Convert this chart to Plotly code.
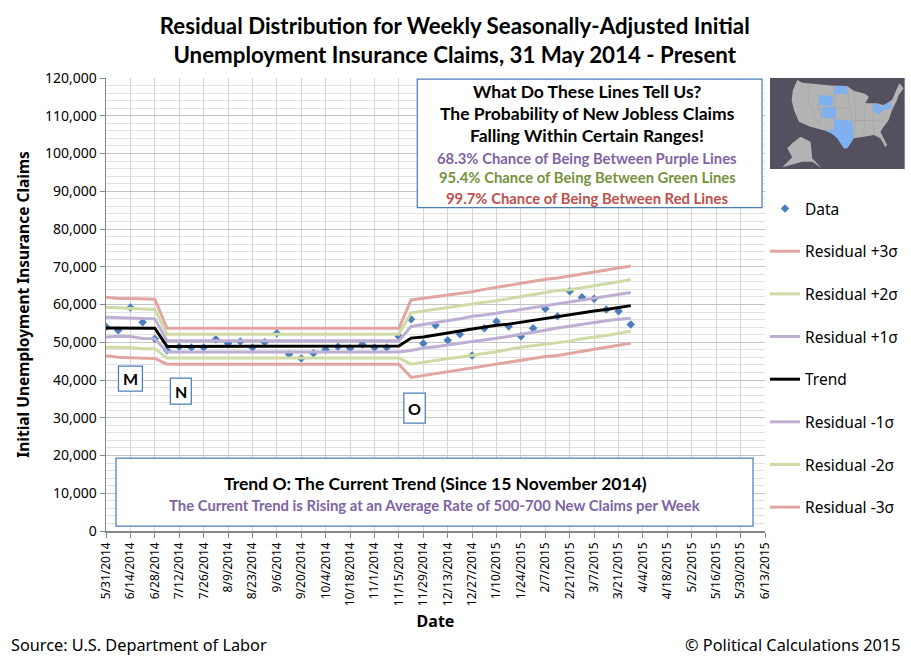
import pandas as pd
import plotly.graph_objects as go

# Weekly dates, 5/31/2014 through 3/28/2015
week_dates = pd.date_range("2014-05-31", periods=44, freq="7D")

data_values = [54100, 53200, 59200, 55300, 50900, 47800, 48800, 48600, 48600, 50800, 49700,
               50200, 48600, 50000, 52400, 46800, 45700, 47100, 48100, 48800, 48400, 49400,
               48600, 48600, 51500, 56100, 49700, 54500, 50500, 52100, 46500, 53700, 55500,
               54200, 51600, 53700, 58900, 56900, 63500, 61900, 61500, 58700, 58200, 54700]

plus3 = [61900, 61600, 61600, 61500, 61400, 53700, 53700, 53700, 53700, 53700, 53700,
         53700, 53700, 53700, 53700, 53700, 53700, 53700, 53700, 53700, 53700, 53700,
         53700, 53700, 53700, 61200, 61600, 62100, 62500, 63000, 63400, 64000, 64500,
         65100, 65600, 66100, 66700, 67000, 67500, 68100, 68600, 69100, 69700, 70200]
plus2 = [59300, 59100, 59000, 58800, 58700, 52100, 52100, 52100, 52100, 52100, 52100,
         52100, 52100, 52100, 52100, 52100, 52100, 52100, 52100, 52100, 52100, 52100,
         52100, 52100, 52100, 57800, 58300, 58800, 59200, 59800, 60300, 60600, 61000,
         61500, 62100, 62600, 63100, 63700, 63900, 64400, 64900, 65300, 66000, 66600]
plus1 = [56600, 56500, 56300, 56300, 56200, 50400, 50400, 50400, 50400, 50400, 50400,
         50400, 50400, 50400, 50400, 50400, 50400, 50400, 50400, 50400, 50400, 50400,
         50400, 50400, 50400, 54200, 54700, 55200, 55700, 56200, 56900, 57200, 57700,
         58200, 58700, 59200, 59800, 60300, 60700, 61200, 61600, 62100, 62600, 63200]
trend = [53800, 53800, 53600, 53600, 53700, 48900, 48900, 48900, 48900, 48900, 48900,
         48900, 48900, 48900, 48900, 48900, 48900, 48900, 48900, 48900, 48900, 48900,
         48900, 48900, 49000, 51100, 51400, 51900, 52500, 53000, 53500, 54000, 54500,
         54800, 55300, 55800, 56300, 56900, 57400, 57900, 58300, 58700, 59200, 59700]
minus1 = [51400, 51600, 51500, 51000, 50900, 47400, 47400, 47400, 47400, 47400, 47400,
          47400, 47400, 47400, 47400, 47400, 47400, 47400, 47400, 47400, 47400, 47400,
          47400, 47400, 47400, 47800, 48500, 48800, 49300, 49700, 50200, 50600, 51000,
          51500, 52100, 52600, 53200, 53800, 54300, 54800, 55300, 55700, 56100, 56300]
minus2 = [48700, 48700, 48600, 48300, 48300, 45800, 45800, 45800, 45800, 45800, 45800,
          45800, 45800, 45800, 45800, 45800, 45800, 45800, 45800, 45800, 45800, 45800,
          45800, 45800, 45800, 44200, 44700, 45200, 45700, 46000, 46400, 47000, 47500,
          48100, 48700, 49100, 49500, 49900, 50300, 50900, 51300, 51800, 52400, 52900]
minus3 = [46400, 46000, 45900, 45700, 45700, 44200, 44200, 44200, 44200, 44200, 44200,
          44200, 44200, 44200, 44200, 44200, 44200, 44200, 44200, 44200, 44200, 44200,
          44200, 44200, 44200, 40700, 41200, 41700, 42100, 42700, 43100, 43600, 44200,
          44700, 45200, 45700, 46200, 46500, 47100, 47600, 48100, 48700, 49200, 49700]

RED = "#e3a5a1"
GREEN = "#cddba5"
PURPLE = "#bdafd3"
BLUE = "#4a7ebb"

line_series = [("Residual +3σ", plus3, RED), ("Residual +2σ", plus2, GREEN),
               ("Residual +1σ", plus1, PURPLE), ("Trend", trend, "black"),
               ("Residual -1σ", minus1, PURPLE), ("Residual -2σ", minus2, GREEN),
               ("Residual -3σ", minus3, RED)]

# Plot area in page pixels
LEFT, RIGHT, TOP, BOTTOM = 105.5, 766, 78, 531


def px(x):
    return (x - LEFT) / (RIGHT - LEFT)


def py(y):
    return (BOTTOM - y) / (BOTTOM - TOP)


fig = go.Figure()

fig.add_trace(go.Scatter(x=week_dates, y=data_values, mode="markers", name="Data",
                         legendgroup="data",
                         marker=dict(symbol="diamond", size=6.5, color=BLUE)))

for name, values, color in line_series:
    fig.add_trace(go.Scatter(x=week_dates, y=values, mode="lines", name=name,
                             legendgroup=name, line=dict(color=color, width=3)))

# ----- Text boxes -----
shapes = []
annotations = []


def add_box(x0, y0, x1, y1):
    shapes.append(dict(type="rect", xref="paper", yref="paper", x0=px(x0), x1=px(x1),
                       y0=py(y1), y1=py(y0), fillcolor="white",
                       line=dict(color=BLUE, width=1.25), layer="above"))


def add_text(x, y, text, size, color="black", bold=True, font="Lato", anchor="center"):
    if bold:
        text = "<b>" + text + "</b>"
    annotations.append(dict(xref="paper", yref="paper", x=px(x), y=py(y), text=text,
                            showarrow=False, xanchor=anchor, yanchor="middle",
                            font=dict(family=font, size=size, color=color)))


add_box(417.5, 79, 763, 207.5)
add_text(588, 91, "What Do These Lines Tell Us?", 17.5)
add_text(588, 114, "The Probability of New Jobless Claims", 17.5)
add_text(588, 135, "Falling Within Certain Ranges!", 17.5)
add_text(588, 158, "68.3% Chance of Being Between Purple Lines", 14.85, "#8064a2")
add_text(588, 177, "95.4% Chance of Being Between Green Lines", 14.85, "#76923c")
add_text(588, 198, "99.7% Chance of Being Between Red Lines", 14.85, "#c0504d")

add_box(115.5, 458, 754, 526)
add_text(436, 483, "Trend O: The Current Trend (Since 15 November 2014)", 17.5)
add_text(435, 505, "The Current Trend is Rising at an Average Rate of 500-700 New Claims per Week", 14.85, "#8064a2")

add_box(118, 366, 142, 391)
add_text(130, 378, "M", 16)
add_box(170, 378, 191, 404)
add_text(180.5, 391, "N", 16)
add_box(404, 393, 425.5, 423)
add_text(414.5, 408, "O", 16)

add_text(8, 645, "Source: U.S. Department of Labor", 16.3, bold=False, font="Noto Sans", anchor="left")
add_text(903, 645, "© Political Calculations 2015", 16.3, bold=False, font="Noto Sans", anchor="right")

# ----- US map inset (rough outlines, drawn in page pixels) -----
us_main = [(85, 30), (100, 38), (195, 47), (235, 48), (255, 62), (290, 72), (300, 80), (290, 100),
           (320, 100), (345, 105), (370, 90), (385, 55), (392, 40), (405, 55), (390, 75), (385, 90),
           (370, 120), (360, 150), (345, 170), (335, 185), (355, 225), (350, 232), (335, 205),
           (315, 195), (285, 200), (255, 205), (235, 235), (225, 235), (205, 200), (190, 185),
           (170, 182), (125, 170), (90, 155), (75, 120), (68, 90), (72, 60)]
us_alaska = [(95, 200), (125, 215), (130, 265), (158, 295), (130, 275), (100, 275), (40, 292),
             (70, 262), (55, 235), (70, 220)]
north_dakota = [(197, 47), (235, 48), (237, 72), (195, 72)]
wyoming = [(152, 75), (192, 78), (190, 108), (148, 105)]
colorado = [(160, 110), (203, 113), (200, 145), (157, 143)]
texas_oklahoma = [(195, 148), (250, 152), (255, 205), (235, 235), (225, 235), (205, 205),
                  (190, 192), (170, 182), (195, 178)]
ohio_penn = [(310, 105), (330, 100), (335, 110), (365, 95), (370, 115), (345, 120), (330, 135),
             (313, 122)]
state_lines = [[(125, 40), (118, 95), (150, 165)], [(152, 75), (148, 105), (157, 143), (150, 165)],
               [(197, 47), (195, 148)], [(237, 72), (250, 152)], [(203, 113), (250, 115)],
               [(255, 62), (262, 150), (255, 205)], [(250, 152), (345, 150)],
               [(290, 100), (285, 200)], [(313, 122), (315, 195)]]


def map_path(points, closed=True):
    coords = [f"{px(770 + x / 3):.4f},{py(70 + y / 3):.4f}" for x, y in points]
    return "M" + " L".join(coords) + (" Z" if closed else "")


shapes.append(dict(type="rect", xref="paper", yref="paper", x0=px(771), x1=px(906),
                   y0=py(169), y1=py(78), fillcolor="#55505f", line=dict(width=0), layer="above"))
for outline in [us_main, us_alaska]:
    shapes.append(dict(type="path", xref="paper", yref="paper", path=map_path(outline),
                       fillcolor="#b4b4b4", line=dict(width=0), layer="above"))
for border in state_lines:
    shapes.append(dict(type="path", xref="paper", yref="paper", path=map_path(border, closed=False),
                       line=dict(color="#a2a2a2", width=0.7), layer="above"))
for outline in [north_dakota, wyoming, colorado, texas_oklahoma, ohio_penn]:
    shapes.append(dict(type="path", xref="paper", yref="paper", path=map_path(outline),
                       fillcolor="#7fb0f0", line=dict(width=0), layer="above"))

fig.update_layout(
    width=911,
    height=662,
    margin=dict(l=LEFT, r=911 - RIGHT, t=TOP, b=662 - BOTTOM, pad=0),
    paper_bgcolor="white",
    plot_bgcolor="white",
    font=dict(family="Noto Sans", color="black"),
    title=dict(text="<b>Residual Distribution for Weekly Seasonally-Adjusted Initial<br>"
                    "Unemployment Insurance Claims, 31 May 2014 - Present</b>",
               x=px(455), xanchor="center", y=1 - 34 / 662, yanchor="middle",
               xref="paper", font=dict(family="Lato", size=22.3)),
    xaxis=dict(type="date", range=["2014-05-31", "2015-06-13"], tick0="2014-05-31",
               dtick=14 * 86400000, tickformat="%-m/%-d/%Y", tickangle=-90,
               tickfont=dict(size=12), ticks="outside", ticklen=5, tickcolor="#868686",
               showgrid=True, gridcolor="#d4d4d4", gridwidth=1, showline=True,
               linecolor="#868686", linewidth=1.5, zeroline=False, automargin=False,
               title=dict(text="<b>Date</b>", font=dict(size=16), standoff=10)),
    yaxis=dict(range=[0, 120000], dtick=10000, tickformat=",", tickfont=dict(size=14),
               ticks="outside", ticklen=5, tickcolor="#868686", showgrid=True,
               gridcolor="#c4c4c4", gridwidth=1, showline=True, linecolor="#868686",
               linewidth=1.5, zeroline=False, automargin=False,
               minor=dict(dtick=2000, showgrid=True, gridcolor="#e2e2e2", gridwidth=1),
               title=dict(text="<b>Initial Unemployment Insurance Claims</b>",
                          font=dict(size=15.5), standoff=11)),
    legend=dict(xref="container", yref="container", x=765 / 911, y=1 - 192 / 662,
                xanchor="left", yanchor="top", itemwidth=30,
                tracegroupgap=19.5, traceorder="grouped", bgcolor="rgba(0,0,0,0)",
                font=dict(size=15.5)),
    shapes=shapes,
    annotations=annotations,
)

fig.write_html("out.html", config=dict(staticPlot=True),
               post_script="document.body.style.margin='0';")
